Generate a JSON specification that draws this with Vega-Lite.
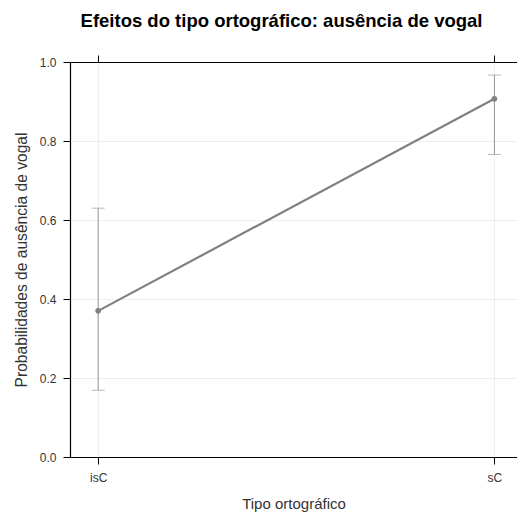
{
  "$schema": "https://vega.github.io/schema/vega-lite/v6.json",
  "autosize": {"type": "none"},
  "padding": {"left": 70, "top": 62, "right": 0, "bottom": 56},
  "width": 447,
  "height": 395,
  "background": "white",
  "title": {
    "text": "Efeitos do tipo ortográfico: ausência de vogal",
    "font": "Liberation Sans",
    "fontSize": 18.5,
    "fontWeight": "bold",
    "color": "#000000",
    "anchor": "middle",
    "offset": 24,
    "dx": -12
  },
  "config": {
    "view": {"stroke": null},
    "axis": {
      "labelFont": "Liberation Sans",
      "titleFont": "Liberation Sans",
      "labelFontSize": 12,
      "titleFontSize": 15,
      "labelColor": "#333333",
      "titleColor": "#333333",
      "titleFontWeight": "normal",
      "domainColor": "#000000",
      "domainWidth": 1.2,
      "tickColor": "#000000",
      "tickSize": 7,
      "gridColor": "#dcdcdc",
      "gridDash": [1, 1],
      "labelPadding": 7
    }
  },
  "data": {
    "values": [
      {"tipo": "isC", "fit": 0.37, "lower": 0.169, "upper": 0.63},
      {"tipo": "sC", "fit": 0.907, "lower": 0.766, "upper": 0.967}
    ]
  },
  "layer": [
    {
      "mark": {"type": "rule", "color": "#999999", "strokeWidth": 1},
      "encoding": {
        "x": {
          "field": "tipo",
          "type": "nominal",
          "sort": ["isC", "sC"],
          "scale": {"type": "point", "padding": 0.064, "align": 0.555},
          "axis": {
            "orient": "bottom",
            "title": "Tipo ortográfico",
            "labelAngle": 0,
            "labelPadding": 8,
            "grid": true,
            "titlePadding": 13
          }
        },
        "y": {
          "field": "lower",
          "type": "quantitative",
          "scale": {"domain": [0, 1], "nice": false, "zero": false},
          "axis": {
            "title": "Probabilidades de ausência de vogal",
            "values": [0, 0.2, 0.4, 0.6, 0.8, 1.0],
            "format": ".1f",
            "grid": true,
            "titleFontSize": 15.6,
            "titlePadding": 10
          }
        },
        "y2": {"field": "upper"}
      }
    },
    {
      "mark": {"type": "tick", "orient": "horizontal", "color": "#999999", "size": 13, "thickness": 1},
      "encoding": {
        "x": {
          "field": "tipo",
          "type": "nominal",
          "sort": ["isC", "sC"],
          "scale": {"type": "point", "padding": 0.064, "align": 0.555},
          "axis": {
            "orient": "top",
            "title": null,
            "labels": false,
            "grid": false
          }
        },
        "y": {"field": "lower", "type": "quantitative"}
      }
    },
    {
      "mark": {"type": "tick", "orient": "horizontal", "color": "#999999", "size": 13, "thickness": 1},
      "encoding": {
        "x": {"field": "tipo", "type": "nominal", "sort": ["isC", "sC"], "axis": null},
        "y": {"field": "upper", "type": "quantitative"}
      }
    },
    {
      "mark": {"type": "line", "color": "#808080", "strokeWidth": 2.2, "point": {"filled": true, "color": "#808080", "size": 32, "opacity": 1}},
      "encoding": {
        "x": {"field": "tipo", "type": "nominal", "sort": ["isC", "sC"], "axis": null},
        "y": {"field": "fit", "type": "quantitative"}
      }
    }
  ],
  "resolve": {"axis": {"x": "independent"}}
}
